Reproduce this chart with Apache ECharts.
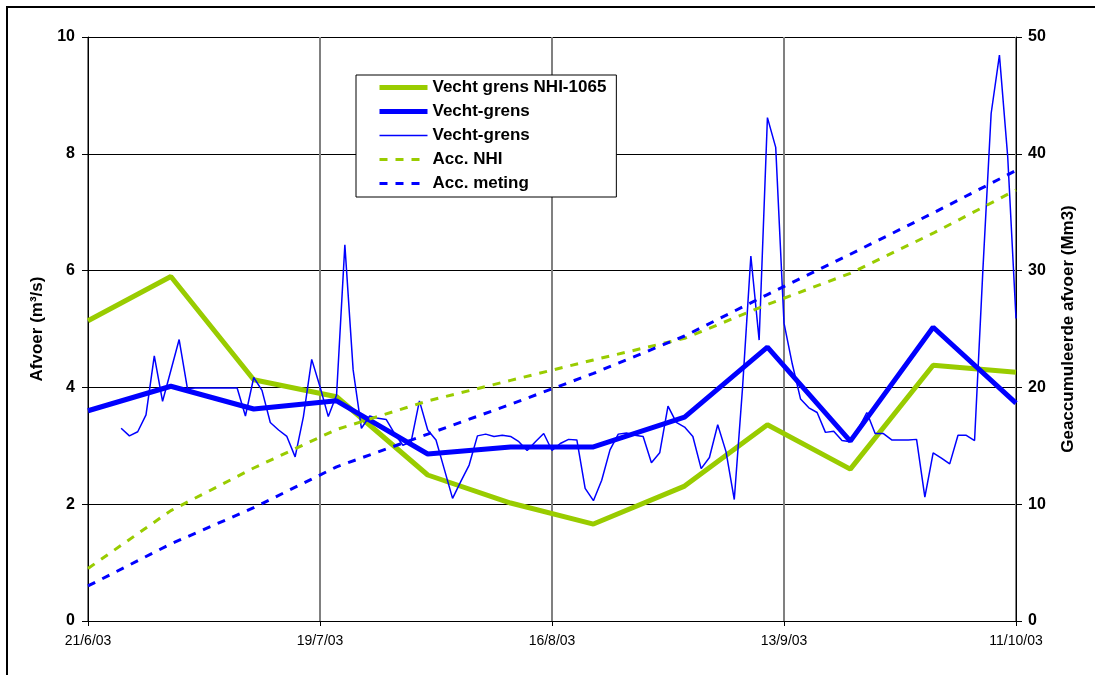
<!DOCTYPE html>
<html>
<head>
<meta charset="utf-8">
<script src="https://cdn.jsdelivr.net/npm/echarts@6/dist/echarts.min.js"></script>
<style>
  html, body { margin: 0; padding: 0; background: #fff; }
  #chart { width: 1095px; height: 675px; }
</style>
</head>
<body>
<div id="chart"></div>
<script>
// Dekad dates (every ~10 days) for the modelled / averaged discharge
const dekadDates = ['2003-06-21', '2003-07-01', '2003-07-11', '2003-07-21', '2003-08-01', '2003-08-11',
                    '2003-08-21', '2003-09-01', '2003-09-11', '2003-09-21', '2003-10-01', '2003-10-11'];

// Discharge (m3/s) per dekad
const nhiFlow      = [5.14, 5.90, 4.13, 3.84, 2.50, 2.02, 1.66, 2.31, 3.36, 2.60, 4.38, 4.26];
const measuredFlow = [3.60, 4.02, 3.63, 3.77, 2.86, 2.98, 2.98, 3.49, 4.69, 3.08, 5.03, 3.73];

// Accumulated discharge (Mm3) per dekad
const accNhi      = [4.5, 9.45, 13.1, 16.4, 18.84, 20.6, 22.35, 24.2, 27.1, 29.77, 33.2, 36.9];
const accMeasured = [3.0, 6.6, 9.7, 13.2, 16.0, 18.55, 21.2, 24.4, 27.95, 31.4, 34.93, 38.57];

// Daily measured discharge (m3/s), starting 25/6/03
const dailyStart = '2003-06-25';
const dailyFlow = [
  3.30, 3.17, 3.24, 3.53, 4.54, 3.76, 4.29, 4.82, 3.98, 3.99,
  3.99, 3.99, 3.99, 3.99, 3.99, 3.51, 4.17, 3.95, 3.40, 3.27,
  3.16, 2.81, 3.50, 4.48, 4.01, 3.50, 3.87, 6.44, 4.30, 3.30,
  3.51, 3.47, 3.45, 3.21, 3.01, 3.07, 3.77, 3.27, 3.10, 2.60,
  2.10, 2.39, 2.67, 3.17, 3.20, 3.16, 3.18, 3.16, 3.07, 2.92,
  3.07, 3.21, 2.92, 3.04, 3.11, 3.10, 2.27, 2.06, 2.41, 2.93,
  3.20, 3.22, 3.18, 3.16, 2.71, 2.88, 3.68, 3.40, 3.32, 3.16,
  2.61, 2.80, 3.36, 2.90, 2.08, 4.00, 6.25, 4.81, 8.62, 8.11,
  5.10, 4.40, 3.80, 3.65, 3.57, 3.23, 3.25, 3.09, 3.07, 3.30,
  3.57, 3.21, 3.21, 3.10, 3.10, 3.10, 3.11, 2.12, 2.88, 2.79,
  2.69, 3.18, 3.18, 3.09, 6.00, 8.69, 9.69, 7.95, 5.18
];

// Date axis tick labels (every 28 days from 21/6/03)
const xTickLabels = ['21/6/03', '19/7/03', '16/8/03', '13/9/03', '11/10/03'];
const xStart = '2003-06-21';
const tickStepDays = 28;

const DAY = 86400000;
function dayOffset(iso) {
  const p = iso.split('-').map(Number);
  const s = xStart.split('-').map(Number);
  return Math.round((Date.UTC(p[0], p[1] - 1, p[2]) - Date.UTC(s[0], s[1] - 1, s[2])) / DAY);
}
const dekadX = dekadDates.map(dayOffset);
const dailyX0 = dayOffset(dailyStart);
const pair = (xs, ys) => ys.map((v, i) => [xs[i], v]);

const FONT = "'Liberation Sans', Arial, sans-serif";
const GREEN = '#99cc00';
const BLUE = '#0000ff';

const chart = echarts.init(document.getElementById('chart'), null, { renderer: 'canvas' });

chart.setOption({
  animation: false,
  backgroundColor: '#ffffff',
  textStyle: { fontFamily: FONT },
  grid: { left: 88, right: 79, top: 37, bottom: 54, containLabel: false },
  graphic: [{
    type: 'rect', silent: true, z: 100,
    shape: { x: 7, y: 7, width: 1300, height: 1000 },
    style: { fill: 'none', stroke: '#000', lineWidth: 2 }
  }],
  legend: {
    orient: 'vertical',
    left: 356, top: 75,
    padding: [4, 10, 5, 21],
    itemWidth: 48, itemHeight: 14, itemGap: 7,
    backgroundColor: '#fff',
    borderColor: '#000', borderWidth: 1,
    itemStyle: { opacity: 0 },
    lineStyle: { width: 'inherit', type: 'inherit' },
    textStyle: { fontFamily: FONT, fontSize: 17, fontWeight: 'bold', color: '#000', lineHeight: 17 },
    data: ['Vecht grens NHI-1065', 'Vecht-grens', 'Vecht-grens dag', 'Acc. NHI', 'Acc. meting'],
    formatter: name => name === 'Vecht-grens dag' ? 'Vecht-grens' : name
  },
  xAxis: {
    type: 'value', min: 0, max: 112, interval: tickStepDays,
    axisLine: { show: true, lineStyle: { color: '#000', width: 1 } },
    axisTick: { show: true, length: 5, lineStyle: { color: '#000' } },
    axisLabel: {
      margin: 13, fontSize: 14, color: '#000', fontFamily: FONT,
      showMinLabel: true, showMaxLabel: true,
      formatter: v => xTickLabels[Math.round(v / tickStepDays)] || ''
    },
    splitLine: { show: true, lineStyle: { color: '#808080', width: 2 } }
  },
  yAxis: [{
    type: 'value', min: 0, max: 10, interval: 2, position: 'left',
    name: 'Afvoer (m³/s)', nameLocation: 'middle', nameGap: 42,
    nameTextStyle: { fontSize: 17, fontWeight: 'bold', color: '#000', fontFamily: FONT },
    axisLine: { show: true, lineStyle: { color: '#000', width: 1 } },
    axisTick: { show: true, length: 6, lineStyle: { color: '#000' } },
    axisLabel: { margin: 13, fontSize: 16, fontWeight: 'bold', color: '#000', fontFamily: FONT },
    splitLine: { show: true, lineStyle: { color: '#000', width: 1 } }
  }, {
    type: 'value', min: 0, max: 50, interval: 10, position: 'right',
    name: 'Geaccumuleerde afvoer (Mm3)', nameLocation: 'middle', nameGap: 44,
    nameTextStyle: { fontSize: 17, fontWeight: 'bold', color: '#000', fontFamily: FONT },
    axisLine: { show: true, lineStyle: { color: '#000', width: 1 } },
    axisTick: { show: true, length: 6, lineStyle: { color: '#000' } },
    axisLabel: { margin: 12, fontSize: 16, fontWeight: 'bold', color: '#000', fontFamily: FONT },
    splitLine: { show: false }
  }],
  series: [{
    name: 'Vecht grens NHI-1065', type: 'line', yAxisIndex: 0,
    data: pair(dekadX, nhiFlow), symbol: 'none', z: 2,
    lineStyle: { color: GREEN, width: 5 }, itemStyle: { color: GREEN }
  }, {
    name: 'Vecht-grens', type: 'line', yAxisIndex: 0,
    data: pair(dekadX, measuredFlow), symbol: 'none', z: 3,
    lineStyle: { color: BLUE, width: 5 }, itemStyle: { color: BLUE }
  }, {
    name: 'Vecht-grens dag', type: 'line', yAxisIndex: 0,
    data: dailyFlow.map((v, i) => [dailyX0 + i, v]), symbol: 'none', z: 4,
    lineStyle: { color: BLUE, width: 1.5 }, itemStyle: { color: BLUE }
  }, {
    name: 'Acc. NHI', type: 'line', yAxisIndex: 1,
    data: pair(dekadX, accNhi), symbol: 'none', z: 4,
    lineStyle: { color: GREEN, width: 3, type: [8, 8] }, itemStyle: { color: GREEN }
  }, {
    name: 'Acc. meting', type: 'line', yAxisIndex: 1,
    data: pair(dekadX, accMeasured), symbol: 'none', z: 4,
    lineStyle: { color: BLUE, width: 3, type: [8, 8] }, itemStyle: { color: BLUE }
  }]
});
</script>
</body>
</html>
